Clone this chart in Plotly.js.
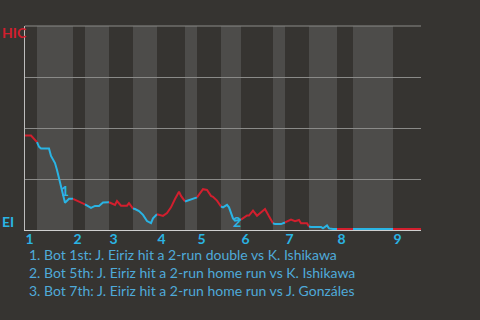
<!DOCTYPE html>
<html>
<head>
<meta charset="utf-8">
<script src="https://cdn.plot.ly/plotly-3.0.1.min.js"></script>
<style>
html,body{margin:0;padding:0;background:#363431;}
#chart{width:480px;height:320px;}
</style>
</head>
<body>
<div id="chart"></div>
<script>
// Pitch index (x) and HIC win probability (y)
const pitchIdx = [0,3,6,7,8,12,13,15,16,17,18,19,20,22,24,27,29,30,33,35,37,39,42,45,46,48,51,52,54,55,57,59,61,63,64,66,69,71,73,75,77,78,80,82,85,86,87,89,91,93,94,96,98,99,101,102,104,105,107,108,111,112,114,116,118,120,122,124,125,128,130,133,135,137,138,141,142,143,148,149,151,152,154,156,164,184,198];
const hicWinProb = [0.463,0.463,0.431,0.408,0.399,0.399,0.363,0.328,0.294,0.255,0.212,0.163,0.134,0.153,0.153,0.139,0.127,0.126,0.108,0.118,0.118,0.135,0.136,0.123,0.142,0.119,0.119,0.132,0.105,0.103,0.093,0.074,0.044,0.034,0.057,0.077,0.069,0.083,0.111,0.152,0.188,0.167,0.140,0.147,0.158,0.160,0.172,0.200,0.196,0.167,0.163,0.144,0.115,0.111,0.123,0.111,0.057,0.046,0.049,0.051,0.071,0.071,0.095,0.070,0.086,0.103,0.067,0.033,0.029,0.029,0.037,0.051,0.043,0.049,0.033,0.033,0.017,0.015,0.015,0.008,0.022,0.008,0.005,0.005,0.005,0.005,0.005];
// half-inning boundaries (top 1st, bot 1st, top 2nd, ...)
const halfBounds = [0,6,24,30,42,54,66,80,86,98,108,124,130,142,156,164,184,198];
const inningLabels = ['1','2','3','4','5','6','7','8','9'];
// scoring plays
const noteLabels = ['1','2','3'];
const noteX = [20,106,154];
const noteY = [0.196,0.044,-0.025];
const noteTexts = [
  '1. Bot 1st: J. Eiriz hit a 2-run double vs K. Ishikawa',
  '2. Bot 5th: J. Eiriz hit a 2-run home run vs K. Ishikawa',
  '3. Bot 7th: J. Eiriz hit a 2-run home run vs J. Gonzáles'
];
const teamAway = 'HIC', teamHome = 'EI';

const RED = '#d21f2e', BLUE = '#2ab4e4', TXTBLUE = '#4faad9';
const FONT = 'Lato, "Noto Sans", sans-serif';

const traces = [];
const shapes = [];
for (let k = 0; k < halfBounds.length - 1; k++) {
  const lo = halfBounds[k], hi = halfBounds[k+1];
  const xs = [], ys = [];
  pitchIdx.forEach((p, i) => { if (p >= lo && p <= hi) { xs.push(p); ys.push(hicWinProb[i]); } });
  traces.push({x: xs, y: ys, type: 'scatter', mode: 'lines',
    line: {color: k % 2 === 0 ? RED : BLUE, width: 2}, hoverinfo: 'skip', showlegend: false});
  if (k % 2 === 1) {
    shapes.push({type: 'rect', xref: 'x', yref: 'paper', x0: lo, x1: hi, y0: 0, y1: 1,
      fillcolor: '#4d4c4a', line: {width: 0}, layer: 'below'});
  }
}
// top border line of the plot area (same style as gridlines)
shapes.push({type: 'line', xref: 'paper', yref: 'paper', x0: 0, x1: 1, y0: 1, y1: 1,
  line: {color: '#8a8a88', width: 1}, layer: 'below'});
const inningStarts = halfBounds.filter((b, i) => i % 2 === 0 && i < halfBounds.length - 1);

const annotations = [];
noteLabels.forEach((t, i) => annotations.push({x: noteX[i], y: noteY[i], xref: 'x', yref: 'y', text: '<b>' + t + '</b>',
  showarrow: false, font: {family: FONT, size: 14, color: BLUE}}));
noteTexts.forEach((t, i) => annotations.push({x: 0.004, y: -0.1225 - i * 0.086, xref: 'paper', yref: 'paper',
  xanchor: 'left', yanchor: 'middle', text: t, showarrow: false, font: {family: FONT, size: 14, color: TXTBLUE}}));
annotations.push({x: -0.062, y: 0.966, xref: 'paper', yref: 'paper', xanchor: 'left', yanchor: 'middle',
  text: '<b>' + teamAway + '</b>', showarrow: false, font: {family: FONT, size: 14, color: RED}});
annotations.push({x: -0.062, y: 0.044, xref: 'paper', yref: 'paper', xanchor: 'left', yanchor: 'middle',
  text: '<b>' + teamHome + '</b>', showarrow: false, font: {family: FONT, size: 14, color: BLUE}});

const layout = {
  width: 480, height: 320,
  margin: {l: 25, r: 59, t: 26, b: 90},
  paper_bgcolor: '#363431', plot_bgcolor: '#363431',
  showlegend: false,
  xaxis: {range: [0, 198], tickvals: inningStarts, ticktext: inningLabels.map(s => '<b>' + s + '</b>'), ticks: '',
    ticklabelposition: 'outside right', ticklabelstandoff: -4, showgrid: false, zeroline: false,
    showline: true, linecolor: '#cfcfcf', linewidth: 1, fixedrange: true,
    tickfont: {family: FONT, size: 14, color: BLUE}},
  yaxis: {range: [0, 1], tickvals: [0, 0.25, 0.5, 0.75, 1], showticklabels: false, ticks: '',
    gridcolor: '#8a8a88', gridwidth: 1, zeroline: false, showline: true, linecolor: '#bdbdbd',
    linewidth: 1, fixedrange: true},
  shapes: shapes,
  annotations: annotations
};
Plotly.newPlot('chart', traces, layout, {displayModeBar: false, staticPlot: true});
</script>
</body>
</html>
